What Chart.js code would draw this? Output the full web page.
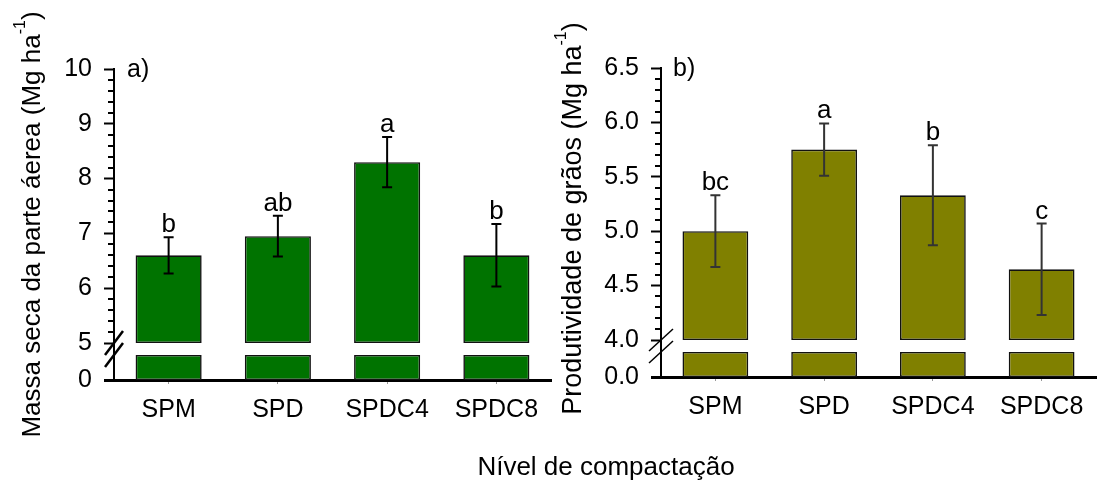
<!DOCTYPE html>
<html>
<head>
<meta charset="utf-8">
<script src="https://cdn.jsdelivr.net/npm/chart.js@4/dist/chart.umd.min.js"></script>
<style>
  html, body { margin: 0; padding: 0; background: #fff; }
  #wrap { position: relative; width: 1098px; height: 480px; overflow: hidden; }
  canvas { position: absolute; top: 0; }
  #cvA { left: 0; }
  #cvB { left: 545px; }
  #xtitle {
    position: absolute; left: 406px; width: 400px; top: 451px;
    text-align: center; font: 26px 'Liberation Sans', Arial, sans-serif;
    line-height: 30px; color: #000;
  }
</style>
</head>
<body>
<div id="wrap">
  <canvas id="cvA" width="555" height="480"></canvas>
  <canvas id="cvB" width="553" height="480"></canvas>
  <div id="xtitle">Nível de compactação</div>
</div>
<script>
// Treatments (soil compaction levels)
const categorias = ['SPM', 'SPD', 'SPDC4', 'SPDC8'];

// a) shoot dry mass (Mg ha-1), standard error and Tukey letters
const massaSeca = [6.6, 6.95, 8.3, 6.6];
const massaSecaErro = [0.33, 0.37, 0.46, 0.57];
const massaSecaLetras = ['b', 'ab', 'a', 'b'];
const massaSecaTicks = [0, 5, 6, 7, 8, 9, 10];

// b) grain yield (Mg ha-1), standard error and Tukey letters
const produtividade = [5.0, 5.75, 5.33, 4.65];
const produtividadeErro = [0.33, 0.24, 0.46, 0.42];
const produtividadeLetras = ['bc', 'a', 'b', 'c'];
const produtividadeTicks = [0.0, 4.0, 4.5, 5.0, 5.5, 6.0, 6.5];

// Broken axis geometry: blank gap and height of the stub below the break
const QUEBRA_PX = 12;
const TOCO_PX = 25;
const FONTE = "'Liberation Sans', Arial, sans-serif";

function painel(canvasId, p) {
  // first tick sits below the break, the rest span the upper segment
  const lo = p.ticks[1], hi = p.ticks[p.ticks.length - 1];
  const alturaArea = p.base - p.topo;
  const unPx = (hi - lo) / (alturaArea - QUEBRA_PX - TOCO_PX);
  const yMin = lo - (QUEBRA_PX + TOCO_PX) * unPx;
  const topoToco = lo - QUEBRA_PX * unPx;
  const canvas = document.getElementById(canvasId);

  const extras = {
    id: 'extras' + canvasId,
    afterDatasetsDraw(chart) {
      const ctx = chart.ctx, x = chart.scales.x, y = chart.scales.y;
      const ax = chart.chartArea.left;
      ctx.save();
      // minor ticks on the upper segment
      ctx.strokeStyle = '#000';
      ctx.lineWidth = 2;
      const n = Math.round((hi - lo) / p.passoMenor);
      for (let k = 1; k < n; k++) {
        const v = lo + k * p.passoMenor;
        const r = v / p.passoMaior;
        if (Math.abs(r - Math.round(r)) < 1e-6) continue;
        const py = Math.round(y.getPixelForValue(v));
        ctx.beginPath(); ctx.moveTo(ax - 6, py); ctx.lineTo(ax, py); ctx.stroke();
      }
      // axis break marks
      ctx.lineWidth = p.quebra.lw;
      [lo, topoToco].forEach(v => {
        const py = y.getPixelForValue(v);
        ctx.beginPath();
        ctx.moveTo(ax - p.quebra.dx, py + p.quebra.dy);
        ctx.lineTo(ax + p.quebra.dx, py - p.quebra.dy);
        ctx.stroke();
      });
      // error bars and mean-separation letters
      ctx.strokeStyle = p.corErro;
      ctx.lineWidth = 2;
      ctx.fillStyle = '#000';
      ctx.font = '26px ' + FONTE;
      ctx.textAlign = 'center';
      ctx.textBaseline = 'alphabetic';
      p.valores.forEach((v, i) => {
        const px = x.getPixelForValue(i);
        const y1 = y.getPixelForValue(v + p.erros[i]);
        const y0 = y.getPixelForValue(v - p.erros[i]);
        ctx.beginPath();
        ctx.moveTo(px, y0); ctx.lineTo(px, y1);
        ctx.moveTo(px - 5, y1); ctx.lineTo(px + 5, y1);
        ctx.moveTo(px - 5, y0); ctx.lineTo(px + 5, y0);
        ctx.stroke();
        ctx.fillText(p.letras[i], px, y1 - 5);
      });
      // panel label
      ctx.font = '25px ' + FONTE;
      ctx.textAlign = 'left';
      ctx.fillText(p.rotulo, p.rotuloX, p.rotuloY);
      // rotated y-axis title with superscript unit
      ctx.translate(p.tituloX, (chart.chartArea.top + chart.chartArea.bottom) / 2 + p.tituloDy);
      ctx.rotate(-Math.PI / 2);
      const fMain = p.tituloTam + 'px ' + FONTE, fSup = '16px ' + FONTE;
      ctx.font = fMain;
      const w1 = ctx.measureText(p.titulo).width;
      const w3 = ctx.measureText(')').width;
      ctx.font = fSup;
      const w2 = ctx.measureText('-1').width;
      let xs = -(w1 + w2 + w3) / 2;
      ctx.font = fMain;
      ctx.fillText(p.titulo, xs, 9);
      xs += w1;
      ctx.font = fSup;
      ctx.fillText('-1', xs, -6);
      xs += w2;
      ctx.font = fMain;
      ctx.fillText(')', xs, 9);
      ctx.restore();
    }
  };

  return new Chart(canvas, {
    type: 'bar',
    data: {
      labels: categorias,
      datasets: [
        {
          // upper segment of each bar, from the break up to the mean
          data: p.valores.map(v => [lo, v]),
          backgroundColor: p.cor,
          borderColor: '#111',
          borderWidth: 1.6,
          borderSkipped: false,
          grouped: false,
          barPercentage: 0.605,
          categoryPercentage: 1
        },
        {
          // stub below the axis break
          data: p.valores.map(() => [yMin, topoToco]),
          backgroundColor: p.cor,
          borderColor: '#111',
          borderWidth: 1.6,
          borderSkipped: false,
          grouped: false,
          barPercentage: 0.605,
          categoryPercentage: 1
        }
      ]
    },
    options: {
      responsive: false,
      animation: false,
      devicePixelRatio: 1,
      layout: { padding: { top: p.topo, right: p.dirPad, left: 0, bottom: 0 } },
      plugins: { legend: { display: false }, tooltip: { enabled: false } },
      scales: {
        x: {
          type: 'category',
          grid: { drawOnChartArea: false, offset: false, tickLength: 4, tickWidth: 1, tickColor: '#999' },
          border: { display: true, color: '#000', width: 3 },
          ticks: { color: '#000', font: { family: FONTE, size: 25 }, padding: 11, maxRotation: 0 },
          afterFit(s) { s.height = 480 - p.base; }
        },
        y: {
          type: 'linear',
          min: yMin,
          max: hi,
          grid: {
            drawOnChartArea: false, tickLength: 10, tickColor: '#000',
            tickWidth: c => (c.index === 0 ? 3 : 2)
          },
          border: { display: true, color: '#000', width: 2 },
          ticks: {
            color: '#000', autoSkip: false, padding: 12,
            font: { family: FONTE, size: 25 },
            callback: (v, i) => p.ticks[i].toFixed(p.casas)
          },
          afterBuildTicks(s) {
            s.ticks = p.ticks.map((t, i) => ({ value: i === 0 ? yMin : t }));
          },
          afterFit(s) { s.width = p.esq; }
        }
      }
    },
    plugins: [extras]
  });
}

painel('cvA', {
  valores: massaSeca, erros: massaSecaErro, letras: massaSecaLetras,
  ticks: massaSecaTicks, casas: 0, passoMaior: 1, passoMenor: 0.2,
  cor: '#007300', corErro: '#000',
  topo: 69, base: 380, esq: 114, dirPad: 4,
  quebra: { dx: 9, dy: 12, lw: 2.5 },
  titulo: 'Massa seca da parte áerea (Mg ha', tituloTam: 26, tituloX: 31, tituloDy: 0,
  rotulo: 'a)', rotuloX: 127, rotuloY: 77
});

painel('cvB', {
  valores: produtividade, erros: produtividadeErro, letras: produtividadeLetras,
  ticks: produtividadeTicks, casas: 1, passoMaior: 0.5, passoMenor: 0.1,
  cor: '#808000', corErro: '#333',
  topo: 68, base: 377, esq: 116, dirPad: 2,
  quebra: { dx: 12, dy: 11, lw: 1.5 },
  titulo: 'Produtividade de grãos (Mg ha', tituloTam: 27, tituloX: 27, tituloDy: -4,
  rotulo: 'b)', rotuloX: 128, rotuloY: 76
});
</script>
</body>
</html>
